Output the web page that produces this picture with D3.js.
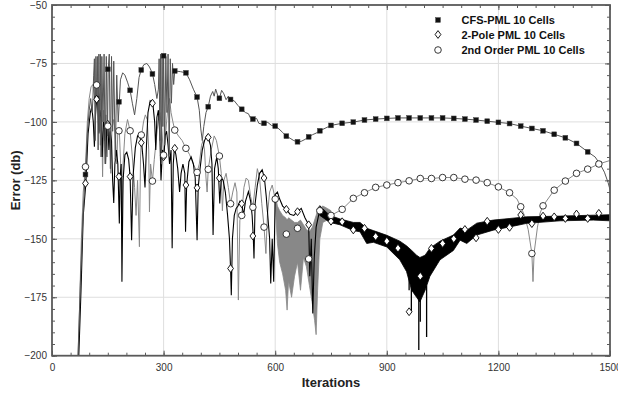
<!DOCTYPE html>
<html>
<head>
<meta charset="utf-8">
<script src="https://cdn.jsdelivr.net/npm/d3@7"></script>
<style>
  body { margin: 0; background: #fff; }
  svg { display: block; font-family: "Liberation Sans", Arial, Helvetica, sans-serif; }
</style>
</head>
<body>
<div id="chart"></div>
<script>
// ---- data: [iteration, error dB] ----
var xTicks = [0, 300, 600, 900, 1200, 1500];
var yTicks = [-50, -75, -100, -125, -150, -175, -200];
var seriesNames = ["CFS-PML 10 Cells", "2-Pole PML 10 Cells", "2nd Order PML 10 Cells"];

var cfsLine = [[70,-200],[76,-170],[82,-145],[88,-126],[90,-122.5],[95,-105],[100,-95],[104,-90],[108,-96],[110,-90],
  [112,-80],[114,-73],[116,-108],[118,-72],[120,-92],[122,-72],[124,-112],[126,-71],[128,-104],[130,-71],
  [132,-115],[134,-72],[137,-100],[140,-71],[143,-118],[146,-72],[149,-106],[151,-77.5],[154,-71],[157,-120],
  [160,-72],[163,-104],[166,-74],[170,-116],[174,-80],[178,-100],[181,-91.4],[184,-82],[190,-79],[196,-80],
  [203,-83],[210,-86.5],[216,-92],[222,-97],[228,-90],[234,-81],[240,-77.6],[247,-75.5],[255,-75],[262,-76.5],
  [270,-79.3],[276,-84],[282,-90],[286,-86],[288,-73],[290,-108],[292,-71],[294,-118],[296,-72],[298,-102],
  [300,-71.5],[303,-110],[306,-72],[309,-96],[312,-71],[315,-114],[318,-73],[321,-92],[324,-75],[327,-84],
  [330,-78.2],[345,-78.5],[360,-79],[370,-82],[380,-86],[390,-89.4],[396,-95],[400,-103],[404,-108],[408,-102],
  [414,-96],[420,-93.5],[426,-89],[432,-87],[436,-89],[440,-86],[446,-89],[450,-89.9],[456,-86.5],[462,-88],
  [468,-90.5],[474,-89],[480,-90.4],[490,-91],[500,-93],[510,-94.6],[520,-96],[528,-96.5],[534,-98.5],[540,-98.8],
  [550,-98.5],[556,-100.6],[565,-101],[570,-100.6],[580,-100.2],[590,-101.5],[600,-101.8],[610,-103],[620,-104.5],[630,-106.1],
  [640,-107],[650,-108],[660,-108.5],[670,-108.3],[680,-107.5],[690,-106.4],[700,-105.5],[710,-104.8],[720,-103.8],[750,-101.5],
  [780,-100.6],[810,-100.1],[840,-99.2],[870,-98.8],[900,-98.5],[930,-98.3],[960,-98.3],[990,-98.3],[1020,-98.3],[1050,-98.3],
  [1080,-98.5],[1110,-98.8],[1140,-99.2],[1170,-99.7],[1200,-100.2],[1230,-100.7],[1260,-101.8],[1290,-102.8],[1320,-103.8],[1350,-105.3],
  [1380,-106.8],[1410,-109.2],[1440,-112.8],[1460,-115],[1475,-118.5],[1485,-121.5],[1495,-126],[1500,-129]];

var cfsMarkers = [[90,-122.5],[120,-90],[150,-77.5],[180,-91.4],[210,-86.5],[240,-77.8],[270,-79.5],[300,-71.7],[330,-78.2],[360,-79],
  [390,-89.4],[420,-93.5],[450,-89.9],[480,-90.4],[510,-94.6],[540,-98.8],[570,-100.6],[600,-101.8],[630,-106.1],[660,-108.5],
  [690,-106.4],[720,-103.8],[750,-101.5],[780,-100.6],[810,-100.1],[840,-99.2],[870,-98.8],[900,-98.5],[930,-98.3],[960,-98.3],
  [990,-98.3],[1020,-98.3],[1050,-98.3],[1080,-98.5],[1110,-98.8],[1140,-99.2],[1170,-99.7],[1200,-100.2],[1230,-100.7],[1260,-101.8],
  [1290,-102.8],[1320,-103.8],[1350,-105.3],[1380,-106.8],[1410,-109.2],[1440,-112.8],[1470,-118]];

var poleLine = [[72,-200],[78,-172],[84,-140],[91,-126.3],[97,-105],[103,-96],[107,-93.5],[111,-100],[114,-110.6],[117,-97],
  [120,-90.3],[123,-93],[126,-105],[129,-95],[132,-98],[135,-115],[138,-100],[141,-102],[144,-118],[147,-103],
  [150,-101],[153,-112],[156,-104],[160,-108],[163,-125],[166,-134.7],[169,-118],[173,-112],[177,-118],[181,-143.4],
  [183,-123.4],[186,-118],[188,-168.4],[191,-125],[196,-114],[201,-113],[206,-116],[210,-123.4],[214,-150.6],[218,-123],
  [224,-111],[230,-106],[236,-106.5],[241,-108.9],[246,-118],[250,-128],[254,-110],[258,-96],[264,-91],[271,-92],
  [276,-100],[279,-112],[282,-98],[286,-95],[290,-106],[293,-125],[297,-112],[301,-114.9],[304,-106],[308,-104],
  [312,-110],[316,-118],[320,-112],[323,-154],[326,-118],[329,-111.3],[333,-114],[338,-120],[343,-130],[347,-122],
  [352,-118],[357,-122],[359,-147],[362,-127],[368,-117],[374,-115],[380,-118],[385,-124],[390,-150.6],[393,-128],
  [398,-120],[404,-112],[410,-108],[416,-106],[420,-106.6],[426,-110],[430,-118],[433,-148.4],[437,-120],[443,-115],
  [447,-120],[451,-134.9],[455,-124],[460,-125],[466,-130],[472,-140],[477,-150],[480,-162.7],[482,-174.1],[485,-150],
  [490,-140],[495,-137],[500,-136],[505,-134],[510,-135],[515,-140],[520,-134],[528,-129.8],[534,-134],[538,-140],
  [541,-148.8],[543,-158.4],[546,-135],[552,-127],[558,-122],[565,-120.5],[571,-124],[576,-132],[580,-140],[585,-150],
  [588,-169.1],[592,-150],[596,-168.4],[600,-131],[606,-130],[612,-133],[620,-136],[630,-137.4],[640,-139.5],[650,-140],
  [660,-138.4],[670,-137],[680,-141],[690,-144],[693,-166],[697,-150],[701,-181.9],[705,-158],[710,-145],[720,-137.5],
  [730,-138],[740,-140],[750,-141]];

var poleMarkers = [[90,-126.3],[120,-90.3],[150,-101],[180,-123.4],[210,-123.4],[240,-108.9],[270,-92],[300,-114.9],[330,-111.3],[360,-127],
  [390,-128.2],[420,-106.6],[450,-124],[480,-162.7],[510,-135],[540,-148.8],[570,-124],[600,-133],[630,-137.4],[660,-138.4],
  [690,-144],[720,-137.5],[750,-142.5],[780,-142.7],[810,-146.2],[840,-145.5],[870,-149],[900,-151],[930,-154],[960,-181.2],
  [990,-166],[1020,-154.1],[1050,-152],[1080,-150],[1110,-146],[1140,-149.6],[1170,-142.5],[1200,-146],[1230,-145.1],[1260,-139.8],
  [1290,-143.5],[1320,-140.3],[1350,-140.6],[1380,-141.3],[1410,-139.4],[1440,-141.3],[1470,-139.1]];

// dense ringing of the 2-Pole run: [iteration, upper dB, lower dB]
var poleBand = [[720,-136,-140],[747,-140,-143],[774,-141.5,-144],[810,-143,-146.5],[828,-143,-147],[846,-145.5,-152],
  [864,-146.5,-151.5],[900,-148.5,-153.5],[935,-151,-159],[953,-153,-164],[967,-155,-172],[980,-157,-175],
  [989,-158,-177],[1003,-157,-172],[1016,-154,-166],[1043,-151,-159],[1079,-148.4,-155],[1097,-145.4,-150.6],
  [1115,-146.3,-152],[1142,-143.3,-148.4],[1186,-142,-146.3],[1231,-141.3,-144.9],[1276,-140.6,-143.4],
  [1366,-140.3,-142.3],[1455,-139.9,-142],[1500,-139.7,-142.3]];
// deep spikes out of that band: [iteration, from dB, to dB]
var poleSpikes = [[960,-165,-172],[966,-170,-181],[986,-175,-197.6],[990,-176,-185.5],[1007,-170,-192]];

var orderLine = [[70,-200],[74,-180],[79,-150],[84,-130],[90,-119.2],[95,-100],[100,-90],[105,-85],[110,-84],[115,-90],
  [120,-84.2],[124,-95],[127,-88],[130,-110],[133,-92],[136,-123.5],[139,-95],[142,-108],[145,-97],[148,-115],
  [151,-101.8],[155,-104],[158,-122],[161,-103],[166,-99],[170,-105],[174,-118],[177,-104],[181,-103.8],[185,-120],
  [188,-147.7],[191,-118],[196,-105],[203,-99],[210,-103.8],[216,-115],[222,-128],[226,-140],[230,-125],[235,-153.4],
  [238,-115],[241,-105.6],[246,-100],[251,-97],[256,-99],[260,-112],[262,-138.5],[265,-118],[270,-125.3],[275,-116],
  [280,-108],[285,-100],[290,-96],[295,-103],[300,-114.2],[304,-108],[308,-100],[312,-93],[316,-90],[320,-96],
  [325,-100],[330,-103.5],[340,-106],[350,-108],[360,-111.3],[370,-114],[380,-118],[390,-121.6],[396,-118],[402,-110],
  [406,-108],[410,-112],[414,-124],[417,-130],[420,-120.3],[428,-112],[436,-106],[442,-108],[450,-114.6],[455,-122],
  [458,-138],[462,-125],[468,-122],[474,-128],[480,-135],[486,-130],[492,-126],[497,-130],[501,-176.2],[505,-142],
  [510,-140],[516,-128],[522,-124],[528,-125],[534,-132],[540,-136.5],[546,-128],[552,-120],[558,-124],[564,-135],
  [570,-145],[575,-156.3],[579,-140],[585,-130],[592,-127],[600,-133]];

var orderBand = [[600,-131,-135],[606,-136,-152],[612,-138,-160],[620,-140,-165],[628,-141,-172],[632,-142,-180.5],
  [636,-141,-168],[644,-142,-175],[652,-143,-166],[660,-143,-160],[668,-142,-172],[676,-144,-158],[684,-146,-162],
  [692,-147,-170],[700,-145,-178],[706,-142,-185],[710,-140,-191],[714,-138,-172],[720,-137,-150],[728,-136,-143],
  [740,-137,-142],[750,-138,-140.5]];

var orderTail = [[750,-140],[780,-137.4],[810,-132.7],[840,-130.3],[870,-128],[900,-127],[930,-126],[960,-125.2],[990,-124.2],[1020,-124.2],
  [1050,-123.8],[1080,-123.8],[1110,-124.5],[1140,-124.9],[1170,-126],[1200,-127.8],[1230,-130.3],[1250,-133],[1260,-136.3],[1270,-140],
  [1280,-146],[1290,-156.3],[1293,-168.3],[1296,-156],[1305,-145],[1312,-139],[1320,-135.9],[1350,-129.2],[1380,-125.3],[1410,-122],
  [1440,-120.2],[1470,-118],[1500,-116.5]];

var orderMarkers = [[90,-119.2],[120,-84.2],[150,-101.8],[180,-103.8],[210,-103.8],[240,-105.6],[270,-125.3],[300,-114.2],[330,-103.5],[360,-111.3],
  [390,-121.6],[420,-120.3],[450,-114.6],[480,-135],[510,-140],[540,-136.5],[570,-145],[600,-133],[630,-148],[660,-145.5],
  [690,-158.6],[720,-138],[750,-140],[780,-137.4],[810,-132.7],[840,-130.3],[870,-128],[900,-127],[930,-126],[960,-125.2],
  [990,-124.2],[1020,-124.2],[1050,-123.8],[1080,-123.8],[1110,-124.5],[1140,-124.9],[1170,-126],[1200,-127.8],[1230,-130.3],[1260,-136.3],
  [1290,-156.3],[1320,-135.9],[1350,-129.2],[1380,-125.3],[1410,-122],[1440,-120.2],[1470,-118]];

// ---- layout ----
var totalWidth = 618,
    totalHeight = 398,
    margin = {top: 5, right: 8, bottom: 42.3, left: 52};
var width = totalWidth - margin.left - margin.right,
    height = totalHeight - margin.top - margin.bottom;

var frameColor = "#5a5a5a",
    cfsColor = "#555",
    poleColor = "#000",
    orderColor = "#888";

var xScale = d3.scaleLinear().domain([0, 1500]).range([0, width]);
var yScale = d3.scaleLinear().domain([-200, -50]).range([height, 0]);

var svg = d3.select("#chart").append("svg")
    .attr("width", totalWidth)
    .attr("height", totalHeight);

var g = svg.append("g")
    .attr("transform", "translate(" + margin.left + "," + margin.top + ")");

svg.append("defs").append("clipPath").attr("id", "plotClip")
  .append("rect").attr("x", 0).attr("y", 0).attr("width", width).attr("height", height);

// grid
g.append("g").selectAll("line").data(xTicks.slice(1, -1)).enter().append("line")
    .attr("x1", function(d) { return xScale(d); }).attr("x2", function(d) { return xScale(d); })
    .attr("y1", 0).attr("y2", height)
    .attr("stroke", "#dedede").attr("stroke-width", 1);
g.append("g").selectAll("line").data(yTicks.slice(1, -1)).enter().append("line")
    .attr("y1", function(d) { return yScale(d); }).attr("y2", function(d) { return yScale(d); })
    .attr("x1", 0).attr("x2", width)
    .attr("stroke", "#dedede").attr("stroke-width", 1);

// axes, ticks pointing inward on all four sides
var xMinor = d3.range(0, 1501, 50),
    yMinor = d3.range(-200, -49, 5);

function drawAxis(axis, transform, labels) {
    var a = g.append("g").attr("transform", transform).call(axis);
    a.select(".domain").remove();
    a.selectAll("line").attr("stroke", frameColor);
    if (labels) {
        a.selectAll("text").attr("fill", "#333").style("font-size", "10px");
    } else {
        a.selectAll("text").remove();
    }
    return a;
}

drawAxis(d3.axisBottom(xScale).tickValues(xTicks).tickSize(-5).tickPadding(8).tickFormat(d3.format("d")),
    "translate(0," + height + ")", true);
drawAxis(d3.axisBottom(xScale).tickValues(xMinor).tickSize(-3), "translate(0," + height + ")", false);
drawAxis(d3.axisTop(xScale).tickValues(xTicks).tickSize(-5), "translate(0,0)", false);
drawAxis(d3.axisTop(xScale).tickValues(xMinor).tickSize(-3), "translate(0,0)", false);
drawAxis(d3.axisLeft(yScale).tickValues(yTicks).tickSize(-5).tickPadding(5).tickFormat(d3.format("d")),
    "translate(0,0)", true);
drawAxis(d3.axisLeft(yScale).tickValues(yMinor).tickSize(-3), "translate(0,0)", false);
drawAxis(d3.axisRight(yScale).tickValues(yTicks).tickSize(-5), "translate(" + width + ",0)", false);
drawAxis(d3.axisRight(yScale).tickValues(yMinor).tickSize(-3), "translate(" + width + ",0)", false);

// data
var plot = g.append("g").attr("clip-path", "url(#plotClip)");

var line = d3.line()
    .x(function(d) { return xScale(d[0]); })
    .y(function(d) { return yScale(d[1]); });

var band = d3.area()
    .x(function(d) { return xScale(d[0]); })
    .y0(function(d) { return yScale(d[2]); })
    .y1(function(d) { return yScale(d[1]); });

// 2nd order
plot.append("path").datum(orderLine).attr("d", line)
    .attr("fill", "none").attr("stroke", orderColor).attr("stroke-width", 1);
plot.append("path").datum(orderBand).attr("d", band)
    .attr("fill", orderColor).attr("stroke", orderColor).attr("stroke-width", 0.8);
plot.append("path").datum(orderTail).attr("d", line)
    .attr("fill", "none").attr("stroke", orderColor).attr("stroke-width", 1);

// 2-Pole
plot.append("path").datum(poleLine).attr("d", line)
    .attr("fill", "none").attr("stroke", poleColor).attr("stroke-width", 1.1);
plot.append("path").datum(poleBand).attr("d", band)
    .attr("fill", poleColor).attr("stroke", poleColor).attr("stroke-width", 0.8);
plot.append("g").selectAll("line").data(poleSpikes).enter().append("line")
    .attr("x1", function(d) { return xScale(d[0]); }).attr("x2", function(d) { return xScale(d[0]); })
    .attr("y1", function(d) { return yScale(d[1]); }).attr("y2", function(d) { return yScale(d[2]); })
    .attr("stroke", poleColor).attr("stroke-width", 1.3);

// CFS
plot.append("path").datum(cfsLine).attr("d", line)
    .attr("fill", "none").attr("stroke", cfsColor).attr("stroke-width", 1);

// markers
var diamondPath = "M0,-3.9L2.9,0L0,3.9L-2.9,0Z";

function drawSquares(sel, data) {
    sel.selectAll("rect").data(data).enter().append("rect")
        .attr("x", function(d) { return xScale(d[0]) - 2.4; })
        .attr("y", function(d) { return yScale(d[1]) - 2.4; })
        .attr("width", 4.8).attr("height", 4.8)
        .attr("fill", "#111").attr("stroke", "#444").attr("stroke-width", 0.5);
}
function drawDiamonds(sel, data) {
    sel.selectAll("path").data(data).enter().append("path")
        .attr("d", diamondPath)
        .attr("transform", function(d) { return "translate(" + xScale(d[0]) + "," + yScale(d[1]) + ")"; })
        .attr("fill", "#fff").attr("stroke", "#000").attr("stroke-width", 0.9);
}
function drawCircles(sel, data) {
    sel.selectAll("circle").data(data).enter().append("circle")
        .attr("cx", function(d) { return xScale(d[0]); })
        .attr("cy", function(d) { return yScale(d[1]); })
        .attr("r", 3.3)
        .attr("fill", "#fff").attr("stroke", "#222").attr("stroke-width", 0.9);
}

drawSquares(plot.append("g"), cfsMarkers);
drawDiamonds(plot.append("g"), poleMarkers);
drawCircles(plot.append("g"), orderMarkers);

// frame
g.append("rect")
    .attr("x", 0).attr("y", 0).attr("width", width).attr("height", height)
    .attr("fill", "none").attr("stroke", frameColor).attr("stroke-width", 1.8);

// legend
var legendX = 438 - margin.left,
    legendRows = [20, 34.5, 50];
var legend = g.append("g");
drawSquares(legend.append("g"), [[xScale.invert(legendX), yScale.invert(legendRows[0] - margin.top)]]);
drawDiamonds(legend.append("g"), [[xScale.invert(legendX), yScale.invert(legendRows[1] - margin.top)]]);
drawCircles(legend.append("g"), [[xScale.invert(legendX), yScale.invert(legendRows[2] - margin.top)]]);
legend.selectAll("text").data(seriesNames).enter().append("text")
    .attr("x", legendX + 23.5)
    .attr("y", function(d, i) { return legendRows[i] - margin.top + 4; })
    .attr("fill", "#111")
    .style("font-size", "11px").style("font-weight", "bold")
    .text(function(d) { return d; });

// axis titles
svg.append("text")
    .attr("x", margin.left + width / 2).attr("y", 387)
    .attr("text-anchor", "middle")
    .style("font-size", "13px").style("font-weight", "bold").attr("fill", "#222")
    .text("Iterations");
svg.append("text")
    .attr("transform", "translate(19.5," + (margin.top + height / 2) + ") rotate(-90)")
    .attr("text-anchor", "middle")
    .style("font-size", "13px").style("font-weight", "bold").attr("fill", "#222")
    .text("Error (db)");
</script>
</body>
</html>
